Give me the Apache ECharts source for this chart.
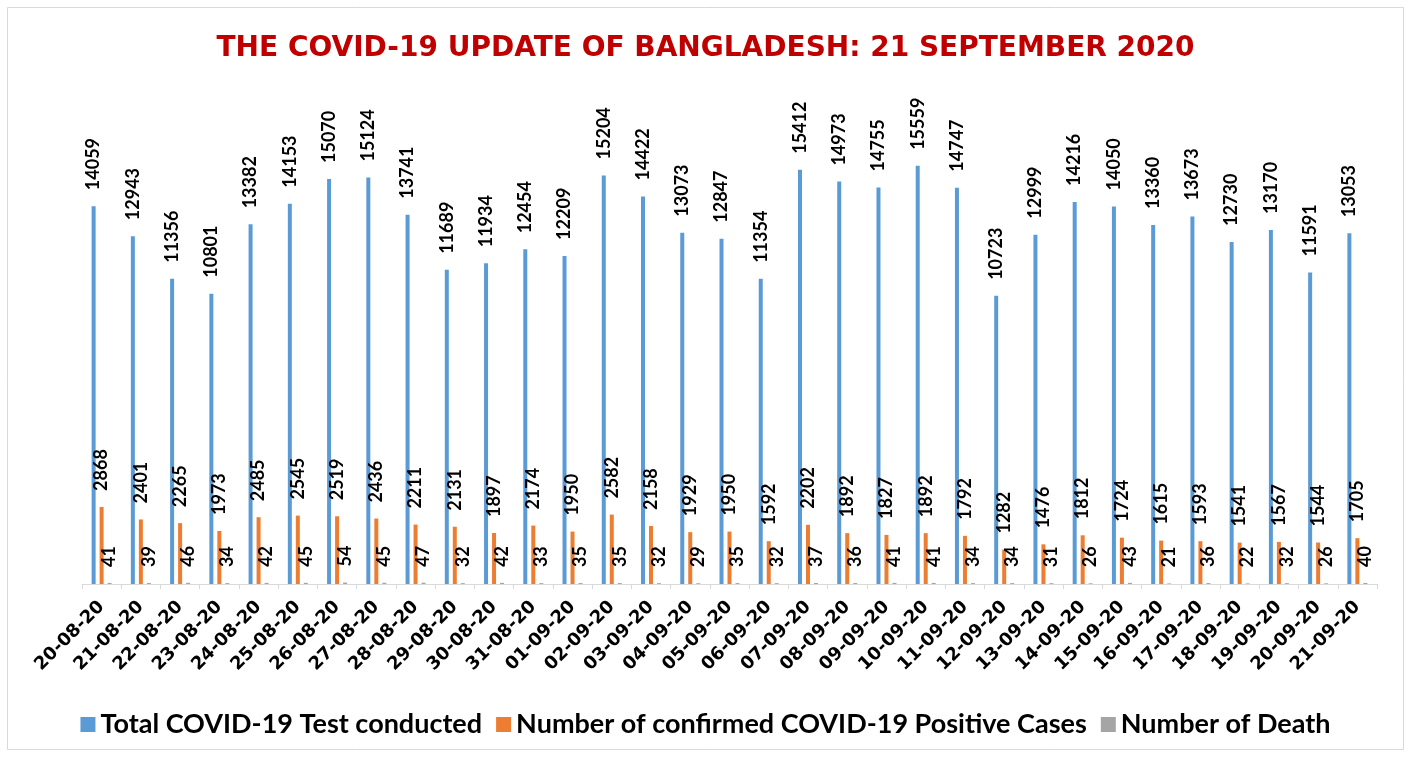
<!DOCTYPE html>
<html>
<head>
<meta charset="utf-8">
<script src="https://cdn.jsdelivr.net/npm/echarts@6/dist/echarts.min.js"></script>
<style>
html,body{margin:0;padding:0;background:#fff;}
#chart{width:1411px;height:758px;}
</style>
</head>
<body>
<div id="chart"></div>
<script>
const titleText = "THE COVID-19 UPDATE OF BANGLADESH: 21 SEPTEMBER 2020";
const dates = ["20-08-20","21-08-20","22-08-20","23-08-20","24-08-20","25-08-20","26-08-20","27-08-20","28-08-20","29-08-20","30-08-20","31-08-20","01-09-20","02-09-20","03-09-20","04-09-20","05-09-20","06-09-20","07-09-20","08-09-20","09-09-20","10-09-20","11-09-20","12-09-20","13-09-20","14-09-20","15-09-20","16-09-20","17-09-20","18-09-20","19-09-20","20-09-20","21-09-20"];
const testsConducted = [14059,12943,11356,10801,13382,14153,15070,15124,13741,11689,11934,12454,12209,15204,14422,13073,12847,11354,15412,14973,14755,15559,14747,10723,12999,14216,14050,13360,13673,12730,13170,11591,13053];
const positiveCases = [2868,2401,2265,1973,2485,2545,2519,2436,2211,2131,1897,2174,1950,2582,2158,1929,1950,1592,2202,1892,1827,1892,1792,1282,1476,1812,1724,1615,1593,1541,1567,1544,1705];
const deaths = [41,39,46,34,42,45,54,45,47,32,42,33,35,35,32,29,35,32,37,36,41,41,34,34,31,26,43,21,36,22,32,26,40];
const seriesNames = ["Total COVID-19 Test conducted","Number of confirmed COVID-19 Positive Cases","Number of Death"];
const seriesColors = ["#5B9BD5","#ED7D31","#A5A5A5"];

const chart = echarts.init(document.getElementById('chart'));
const labelCfg = {
  show: true, position: 'top', distance: 16, rotate: 90,
  align: 'left', verticalAlign: 'middle',
  fontFamily: 'Lato', fontWeight: 'bold', fontSize: 18, color: '#000'
};
function mk(name, data, color) {
  return {
    name: name, type: 'bar', data: data, barWidth: 4, barGap: '100%',
    itemStyle: {color: color}, label: labelCfg
  };
}
chart.setOption({
  animation: false,
  title: {
    text: titleText, left: 'center', top: 30,
    textStyle: {fontFamily: 'DejaVu Sans', fontWeight: 'bold', fontSize: 28, color: '#C00000'}
  },
  graphic: [{
    type: 'rect', shape: {x: 7.5, y: 7.5, width: 1396, height: 742},
    style: {fill: 'none', stroke: '#D9D9D9', lineWidth: 1}, silent: true
  }],
  legend: {
    data: seriesNames, left: 'center', top: 706, itemWidth: 15, itemHeight: 15, itemGap: 14,
    icon: 'rect',
    textStyle: {fontFamily: 'Lato', fontWeight: 'bold', fontSize: 27, color: '#000'}
  },
  grid: {left: 82, right: 34, top: 154, bottom: 174, containLabel: false},
  xAxis: {
    type: 'category', data: dates,
    axisLine: {lineStyle: {color: '#D9D9D9', width: 1}},
    axisTick: {show: true, length: 5, lineStyle: {color: '#D9D9D9'}},
    axisLabel: {interval: 0, rotate: 45, margin: 20, fontFamily: 'DejaVu Sans', fontWeight: 'bold', fontSize: 18, color: '#000'}
  },
  yAxis: {
    type: 'value', min: 0, max: 16000, show: false, splitLine: {show: false}
  },
  series: [
    mk(seriesNames[0], testsConducted, seriesColors[0]),
    mk(seriesNames[1], positiveCases, seriesColors[1]),
    mk(seriesNames[2], deaths, seriesColors[2])
  ]
});
</script>
</body>
</html>
